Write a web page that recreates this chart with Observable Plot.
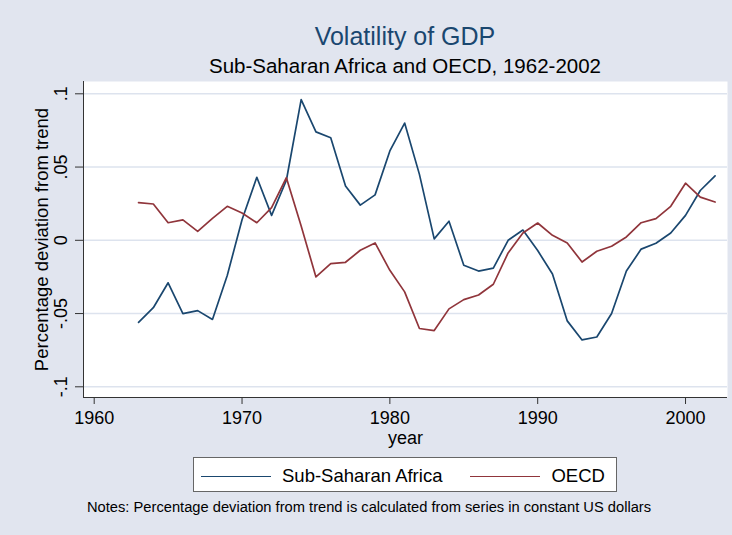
<!DOCTYPE html>
<html><head><meta charset="utf-8">
<script src="https://cdn.jsdelivr.net/npm/d3@7"></script>
<script src="https://cdn.jsdelivr.net/npm/@observablehq/plot@0.6"></script>
<style>
html,body{margin:0;padding:0;background:#e1e5ef;}
#chart{position:relative;width:732px;height:535px;background:#e1e5ef;font-family:"Liberation Sans",Arial,Helvetica,sans-serif;overflow:hidden;color:#000;}
.abs{position:absolute;white-space:nowrap;line-height:1;}
#plotwrap{position:absolute;left:0;top:76px;}
#legend{position:absolute;left:193px;top:457px;width:424px;height:35px;box-sizing:border-box;border:1px solid #666;background:#fff;display:flex;align-items:center;padding-top:3px;padding-left:7px;font-size:18.5px;line-height:1;}
.lg-line{flex:0 0 70px;width:70px;height:0;border-top:1.6px solid;margin-right:11px;}
.lg-text{flex:0 0 auto;margin-right:28px;white-space:nowrap;}
</style></head><body><div id="chart"></div>
<script>
const years = [1963,1964,1965,1966,1967,1968,1969,1970,1971,1972,1973,1974,1975,1976,1977,1978,1979,1980,1981,1982,1983,1984,1985,1986,1987,1988,1989,1990,1991,1992,1993,1994,1995,1996,1997,1998,1999,2000,2001,2002];
const ssaValues = [-0.056,-0.046,-0.029,-0.050,-0.048,-0.054,-0.024,0.014,0.043,0.017,0.041,0.096,0.074,0.070,0.037,0.024,0.031,0.061,0.080,0.045,0.001,0.013,-0.017,-0.021,-0.019,0.000,0.007,-0.007,-0.023,-0.055,-0.068,-0.066,-0.050,-0.021,-0.006,-0.002,0.005,0.017,0.034,0.044];
const oecdValues = [0.0257,0.0248,0.012,0.0139,0.0061,0.015,0.0232,0.0186,0.012,0.0223,0.0427,0.0097,-0.025,-0.0159,-0.015,-0.0068,-0.0018,-0.0205,-0.0352,-0.0602,-0.0616,-0.0468,-0.0405,-0.0373,-0.030,-0.0086,0.005,0.0118,0.0034,-0.0018,-0.0148,-0.0075,-0.0041,0.0023,0.012,0.0148,0.0232,0.039,0.0295,0.0261];
const seriesNames = ["Sub-Saharan Africa","OECD"];
const seriesColors = ["#1a476f","#90353b"];
const yTickValues = [-0.1,-0.05,0,0.05,0.1];
const yTickLabels = ["-.1","-.05","0",".05",".1"];
const xTickValues = [1960,1970,1980,1990,2000];
const xDomain = [1959.276,2002.84];
const yDomain = [-0.1073,0.1084];
const titleText = "Volatility of GDP";
const subtitleText = "Sub-Saharan Africa and OECD, 1962-2002";
const yLabel = "Percentage deviation from trend";
const xLabel = "year";
const noteText = "Notes: Percentage deviation from trend is calculated from series in constant US dollars";

const data = [
  ...years.map((yr,i)=>({year:yr,value:ssaValues[i],series:seriesNames[0]})),
  ...years.map((yr,i)=>({year:yr,value:oecdValues[i],series:seriesNames[1]}))
];

const chart = document.getElementById("chart");
function addText(txt, opts){
  const d = document.createElement("div");
  d.className = "abs";
  d.textContent = txt;
  Object.assign(d.style, opts);
  chart.appendChild(d);
  return d;
}
addText(titleText,{left:"105px",width:"600px",textAlign:"center",top:"23.8px",fontSize:"25px",color:"#1a476f"});
addText(subtitleText,{left:"105px",width:"600px",textAlign:"center",top:"55.9px",fontSize:"20.5px"});

const plot = Plot.plot({
  width:732, height:380,
  marginTop:5, marginBottom:59, marginLeft:83, marginRight:5,
  x:{domain:xDomain},
  y:{domain:yDomain},
  color:{domain:seriesNames, range:seriesColors},
  style:{fontFamily:'"Liberation Sans",Arial,Helvetica,sans-serif',fontSize:"18px",background:"transparent",color:"#000",overflow:"visible"},
  marks:[
    Plot.frame({fill:"white",stroke:"none"}),
    Plot.gridY(yTickValues,{stroke:"#dde3ee",strokeOpacity:1,strokeWidth:1.5}),
    Plot.line(data,{x:"year",y:"value",z:"series",stroke:"series",strokeWidth:1.7}),
    Plot.ruleX([xDomain[0]],{stroke:"#333",strokeWidth:1}),
    Plot.ruleY([yDomain[0]],{stroke:"#333",strokeWidth:1}),
    Plot.axisX({ticks:xTickValues,tickFormat:d=>String(d),tickSize:7,tickPadding:7,stroke:"#333",fill:"#000",fontSize:18,label:null}),
    Plot.axisY({ticks:yTickValues,tickFormat:d=>yTickLabels[yTickValues.indexOf(d)],tickSize:8,tickPadding:9,tickRotate:-90,textAnchor:"middle",lineAnchor:"bottom",stroke:"#333",fill:"#000",fontSize:18,label:null}),
    Plot.text([yLabel],{text:d=>d,frameAnchor:"left",rotate:-90,dx:-36,lineAnchor:"bottom",textAnchor:"middle",fontSize:18.5,fill:"#000"}),
    Plot.text([xLabel],{text:d=>d,frameAnchor:"bottom",dy:46,lineAnchor:"bottom",textAnchor:"middle",fontSize:18,fill:"#000"})
  ]
});
const wrap = document.createElement("div");
wrap.id = "plotwrap";
wrap.appendChild(plot);
chart.appendChild(wrap);

const legend = document.createElement("div");
legend.id = "legend";
seriesNames.forEach((name,i)=>{
  const ln = document.createElement("div");
  ln.className = "lg-line";
  ln.style.borderTopColor = seriesColors[i];
  const tx = document.createElement("div");
  tx.className = "lg-text";
  tx.textContent = name;
  legend.appendChild(ln);
  legend.appendChild(tx);
});
chart.appendChild(legend);

addText(noteText,{left:"87px",top:"500px",fontSize:"14.7px"});
</script>
</body></html>
